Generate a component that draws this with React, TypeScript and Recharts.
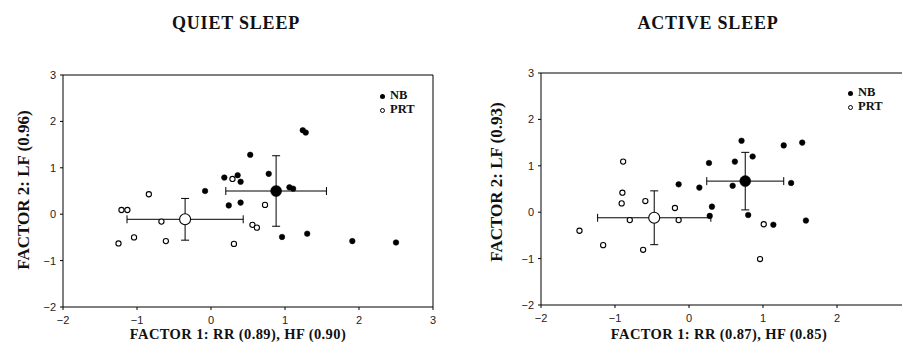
import React from 'react';
import { ScatterChart, Scatter, XAxis, YAxis, ErrorBar, ReferenceLine } from 'recharts';

// individual subjects, [factor1, factor2]
const quietNB: [number, number][] = [
  [-0.08, 0.5], [0.18, 0.79], [0.36, 0.84], [0.4, 0.7], [0.53, 1.28], [0.78, 0.87],
  [0.24, 0.19], [0.4, 0.25], [1.06, 0.58], [1.11, 0.55], [1.24, 1.81], [1.28, 1.76],
  [0.96, -0.49], [1.3, -0.42], [1.91, -0.58], [2.5, -0.61],
];
const quietPRT: [number, number][] = [
  [-1.25, -0.63], [-1.21, 0.09], [-1.13, 0.09], [-1.04, -0.5], [-0.84, 0.43], [-0.67, -0.16],
  [-0.61, -0.58], [0.29, 0.76], [0.73, 0.2], [0.56, -0.23], [0.62, -0.29], [0.31, -0.64],
];
const activeNB: [number, number][] = [
  [-0.14, 0.6], [0.14, 0.53], [0.27, 1.06], [0.31, 0.12], [0.28, -0.08], [0.59, 0.57],
  [0.62, 1.09], [0.71, 1.54], [0.86, 1.2], [0.8, -0.06], [1.14, -0.27], [1.28, 1.44],
  [1.38, 0.63], [1.53, 1.5], [1.58, -0.18],
];
const activePRT: [number, number][] = [
  [-1.48, -0.4], [-1.16, -0.71], [-0.89, 1.09], [-0.9, 0.42], [-0.91, 0.19], [-0.8, -0.17],
  [-0.62, -0.81], [-0.59, 0.24], [-0.19, 0.09], [-0.14, -0.17], [1.01, -0.26], [0.96, -1.01],
];

// group means with SD: [x, y, sdX, sdY]
const quietMeanNB = [0.88, 0.5, 0.68, 0.76];
const quietMeanPRT = [-0.35, -0.11, 0.785, 0.45];
const activeMeanNB = [0.76, 0.67, 0.52, 0.62];
const activeMeanPRT = [-0.47, -0.12, 0.765, 0.58];

const axisTicks = [-2, -1, 0, 1, 2, 3];
// right panel is cut off before x = 3
const activeXTicks = [-2, -1, 0, 1, 2];

const toPts = (arr: [number, number][]) => arr.map(([x, y]) => ({ x, y }));
const toMean = (m: number[]) => [{ x: m[0], y: m[1], ex: m[2], ey: m[3] }];
const fmt = (v: number) => (v < 0 ? '\u2212' + Math.abs(v) : String(v));

const serif = '"Liberation Serif", "DejaVu Serif", serif';
const sans = '"Liberation Sans", Arial, sans-serif';

const Dot = (r: number, open: boolean) => (p: any) => (
  <circle cx={p.cx} cy={p.cy} r={r} fill={open ? '#fff' : '#000'} stroke="#000" strokeWidth={open ? 1.1 : 0.5} />
);

const tickStyle = { fill: '#222', fontSize: 11, fontFamily: sans };

interface PanelProps {
  nb: [number, number][];
  prt: [number, number][];
  meanNB: number[];
  meanPRT: number[];
  xTicks: number[];
  width: number;
  margin: { top: number; right: number; bottom: number; left: number };
}

const Panel: React.FC<PanelProps> = ({ nb, prt, meanNB, meanPRT, xTicks, width, margin }) => (
  <ScatterChart width={width} height={350} margin={margin}>
    <XAxis
      type="number"
      dataKey="x"
      domain={[-2, 3]}
      ticks={xTicks}
      tickFormatter={fmt}
      allowDataOverflow
      height={30}
      tickSize={3}
      tickMargin={6}
      stroke="#000"
      tick={tickStyle}
    />
    <YAxis
      type="number"
      dataKey="y"
      domain={[-2, 3]}
      ticks={axisTicks}
      tickFormatter={fmt}
      allowDataOverflow
      width={40}
      tickSize={3}
      tickMargin={4}
      stroke="#000"
      tick={tickStyle}
    />
    <ReferenceLine y={3} stroke="#000" strokeWidth={1} />
    <ReferenceLine x={3} stroke="#000" strokeWidth={1} />
    <Scatter data={toPts(prt)} shape={Dot(2.6, true)} isAnimationActive={false} />
    <Scatter data={toPts(nb)} shape={Dot(2.8, false)} isAnimationActive={false} />
    <Scatter data={toMean(meanNB)} shape={Dot(5.5, false)} isAnimationActive={false}>
      <ErrorBar dataKey="ex" direction="x" width={4} stroke="#000" strokeWidth={1} />
      <ErrorBar dataKey="ey" direction="y" width={4} stroke="#000" strokeWidth={1} />
    </Scatter>
    <Scatter data={toMean(meanPRT)} shape={Dot(5.5, true)} isAnimationActive={false}>
      <ErrorBar dataKey="ex" direction="x" width={4} stroke="#000" strokeWidth={1} />
      <ErrorBar dataKey="ey" direction="y" width={4} stroke="#000" strokeWidth={1} />
    </Scatter>
  </ScatterChart>
);

const Text: React.FC<{ x: number; y: number; size: number; spacing?: number; rotate?: boolean; children: React.ReactNode }> = ({ x, y, size, spacing = 0, rotate, children }) => (
  <div
    style={{
      position: 'absolute',
      left: x,
      top: y,
      transform: `translate(-50%, -50%)${rotate ? ' rotate(-90deg)' : ''}`,
      whiteSpace: 'nowrap',
      fontFamily: serif,
      fontWeight: 'bold',
      fontSize: size,
      letterSpacing: spacing,
      color: '#111',
    }}
  >
    {children}
  </div>
);

const Key: React.FC<{ x: number; y: number }> = ({ x, y }) => (
  <div style={{ position: 'absolute', left: x, top: y, fontFamily: serif, fontWeight: 'bold', fontSize: 12.5, lineHeight: '14px', color: '#111' }}>
    <div><span style={{ display: 'inline-block', width: 5, height: 5, borderRadius: 3, background: '#000', marginRight: 5, verticalAlign: 'middle' }} />NB</div>
    <div><span style={{ display: 'inline-block', width: 3, height: 3, borderRadius: 3, border: '1px solid #000', marginRight: 5, verticalAlign: 'middle' }} />PRT</div>
  </div>
);

export default function App() {
  return (
    <div style={{ position: 'absolute', left: 0, top: 0, width: 902, height: 350, overflow: 'hidden', background: '#fff' }}>
      <div style={{ position: 'absolute', left: 0, top: 0 }}>
        <Panel nb={quietNB} prt={quietPRT} meanNB={quietMeanNB} meanPRT={quietMeanPRT} xTicks={axisTicks} width={450}
          margin={{ top: 75, right: 17, bottom: 13, left: 23 }} />
      </div>
      <div style={{ position: 'absolute', left: 450, top: 0 }}>
        <Panel nb={activeNB} prt={activePRT} meanNB={activeMeanNB} meanPRT={activeMeanPRT} xTicks={activeXTicks} width={470}
          margin={{ top: 73, right: 9, bottom: 15, left: 51 }} />
      </div>
      <Text x={236} y={23} size={18} spacing={0.8}>QUIET SLEEP</Text>
      <Text x={708} y={23} size={18} spacing={0.8}>ACTIVE SLEEP</Text>
      <Text x={238} y={334} size={14.5} spacing={0.4}>FACTOR 1: RR (0.89), HF (0.90)</Text>
      <Text x={719} y={334} size={14.5} spacing={0.4}>FACTOR 1: RR (0.87), HF (0.85)</Text>
      <Text x={24} y={190} size={17} rotate>FACTOR 2: LF (0.96)</Text>
      <Text x={497} y={182} size={17} rotate>FACTOR 2: LF (0.93)</Text>
      <Key x={380} y={88} />
      <Key x={848} y={85} />
    </div>
  );
}
